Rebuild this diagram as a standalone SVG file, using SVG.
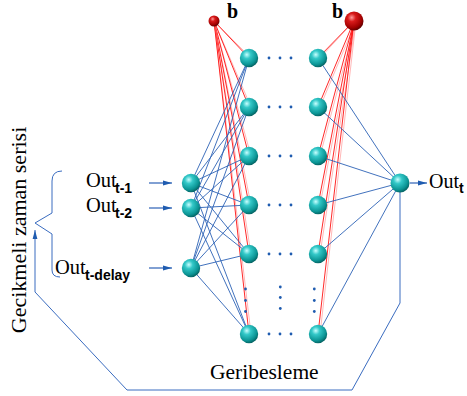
<svg xmlns="http://www.w3.org/2000/svg" width="467" height="396" viewBox="0 0 467 396">
  <defs>
    <radialGradient id="teal" cx="0.38" cy="0.32" r="0.72">
      <stop offset="0" stop-color="#c8ffff"/>
      <stop offset="0.3" stop-color="#33c8c8"/>
      <stop offset="0.75" stop-color="#0b9494"/>
      <stop offset="1" stop-color="#045c5c"/>
    </radialGradient>
    <radialGradient id="ruby" cx="0.38" cy="0.32" r="0.72">
      <stop offset="0" stop-color="#ff9a9a"/>
      <stop offset="0.3" stop-color="#d81a1a"/>
      <stop offset="0.75" stop-color="#a00000"/>
      <stop offset="1" stop-color="#550000"/>
    </radialGradient>
    <marker id="arr" markerWidth="9" markerHeight="6" refX="9" refY="3" orient="auto" markerUnits="userSpaceOnUse">
      <path d="M0,0.6 L9,3 L0,5.4 z" fill="#1f5cb0"/>
    </marker>
  </defs>
  <style>
    .w { stroke: #2d62b6; stroke-width: 0.9; fill: none; }
    .r { stroke: #ff1010; stroke-width: 0.9; fill: none; }
    .p { stroke: #ffb0b0; stroke-width: 0.9; fill: none; }
    .fb { stroke: #3a6cc0; stroke-width: 1; fill: none; }
    .ar { stroke: #2d62b6; stroke-width: 1.2; fill: none; marker-end: url(#arr); }
    .n { fill: url(#teal); }
    .bias { fill: url(#ruby); }
    .dot { fill: #1f5cb0; }
    .t { font-family: "Liberation Serif", "Times New Roman", serif; fill: #000; }
    .s { font-family: "Liberation Sans", Arial, sans-serif; font-weight: bold; font-size: 14px; fill: #000; }
  </style>

  <!-- connections -->
  <g id="connectors">
    <!-- bias of first hidden layer -->
    <g>
      <line class="p" x1="214" y1="21" x2="251" y2="58"/>
      <line class="r" x1="214" y1="21" x2="249" y2="58"/>
      <line class="p" x1="214" y1="21" x2="251" y2="107"/>
      <line class="r" x1="214" y1="21" x2="249" y2="107"/>
      <line class="p" x1="214" y1="21" x2="251" y2="156"/>
      <line class="r" x1="214" y1="21" x2="249" y2="156"/>
      <line class="p" x1="214" y1="21" x2="251" y2="205"/>
      <line class="r" x1="214" y1="21" x2="249" y2="205"/>
      <line class="p" x1="214" y1="21" x2="251" y2="254"/>
      <line class="r" x1="214" y1="21" x2="249" y2="254"/>
      <line class="p" x1="214" y1="21" x2="251" y2="334"/>
      <line class="r" x1="214" y1="21" x2="249" y2="334"/>
    </g>
    <!-- bias of last hidden layer -->
    <g>
      <line class="p" x1="354" y1="21" x2="320" y2="58"/>
      <line class="r" x1="354" y1="21" x2="318" y2="58"/>
      <line class="p" x1="356" y1="21" x2="320" y2="107"/>
      <line class="r" x1="354" y1="21" x2="318" y2="107"/>
      <line class="p" x1="356" y1="21" x2="320" y2="156"/>
      <line class="r" x1="354" y1="21" x2="318" y2="156"/>
      <line class="p" x1="356" y1="21" x2="320" y2="205"/>
      <line class="r" x1="354" y1="21" x2="318" y2="205"/>
      <line class="p" x1="356" y1="21" x2="320" y2="254"/>
      <line class="r" x1="354" y1="21" x2="318" y2="254"/>
      <line class="p" x1="356" y1="21" x2="320" y2="334"/>
      <line class="r" x1="354" y1="21" x2="318" y2="334"/>
    </g>
    <!-- inputs to first hidden layer -->
    <g>
      <line class="w" x1="191" y1="183" x2="249" y2="58"/>
      <line class="w" x1="191" y1="183" x2="249" y2="107"/>
      <line class="w" x1="191" y1="183" x2="249" y2="156"/>
      <line class="w" x1="191" y1="183" x2="249" y2="205"/>
      <line class="w" x1="191" y1="183" x2="249" y2="254"/>
      <line class="w" x1="191" y1="183" x2="249" y2="334"/>
      <line class="w" x1="191" y1="208" x2="249" y2="58"/>
      <line class="w" x1="191" y1="208" x2="249" y2="107"/>
      <line class="w" x1="191" y1="208" x2="249" y2="156"/>
      <line class="w" x1="191" y1="208" x2="249" y2="205"/>
      <line class="w" x1="191" y1="208" x2="249" y2="254"/>
      <line class="w" x1="191" y1="208" x2="249" y2="334"/>
      <line class="w" x1="191" y1="268" x2="249" y2="58"/>
      <line class="w" x1="191" y1="268" x2="249" y2="107"/>
      <line class="w" x1="191" y1="268" x2="249" y2="156"/>
      <line class="w" x1="191" y1="268" x2="249" y2="205"/>
      <line class="w" x1="191" y1="268" x2="249" y2="254"/>
      <line class="w" x1="191" y1="268" x2="249" y2="334"/>
    </g>
    <!-- last hidden layer to output -->
    <g>
      <line class="w" x1="318" y1="58" x2="400" y2="183"/>
      <line class="w" x1="318" y1="107" x2="400" y2="183"/>
      <line class="w" x1="318" y1="156" x2="400" y2="183"/>
      <line class="w" x1="318" y1="205" x2="400" y2="183"/>
      <line class="w" x1="318" y1="254" x2="400" y2="183"/>
      <line class="w" x1="318" y1="334" x2="400" y2="183"/>
    </g>
    <!-- input / output arrows -->
    <line class="ar" x1="149" y1="183" x2="172" y2="183"/>
    <line class="ar" x1="149" y1="208" x2="172" y2="208"/>
    <line class="ar" x1="149" y1="268" x2="172" y2="268"/>
    <line class="ar" x1="410" y1="183" x2="427" y2="183"/>
    <!-- feedback loop -->
    <path class="fb" d="M400,192 V303 L352,390 H127 L35,292 V230" marker-end="url(#arr)"/>
    <!-- brace grouping the delayed inputs -->
    <path class="fb" d="M62,171 Q52,171 52,181 V213 L35,223 L52,234 V270 Q52,277 60,277"/>
  </g>

  <!-- dots between hidden layers -->
  <g id="ellipses">
    <g>
      <circle class="dot" cx="269" cy="58" r="1.4"/><circle class="dot" cx="280" cy="58" r="1.4"/><circle class="dot" cx="291" cy="58" r="1.4"/>
      <circle class="dot" cx="269" cy="107" r="1.4"/><circle class="dot" cx="280" cy="107" r="1.4"/><circle class="dot" cx="291" cy="107" r="1.4"/>
      <circle class="dot" cx="269" cy="156" r="1.4"/><circle class="dot" cx="280" cy="156" r="1.4"/><circle class="dot" cx="291" cy="156" r="1.4"/>
      <circle class="dot" cx="269" cy="205" r="1.4"/><circle class="dot" cx="280" cy="205" r="1.4"/><circle class="dot" cx="291" cy="205" r="1.4"/>
      <circle class="dot" cx="269" cy="254" r="1.4"/><circle class="dot" cx="280" cy="254" r="1.4"/><circle class="dot" cx="291" cy="254" r="1.4"/>
      <circle class="dot" cx="269" cy="334" r="1.4"/><circle class="dot" cx="280" cy="334" r="1.4"/><circle class="dot" cx="291" cy="334" r="1.4"/>
    </g>
    <g>
      <circle class="dot" cx="245.5" cy="289" r="1.4"/><circle class="dot" cx="245.5" cy="300.5" r="1.4"/><circle class="dot" cx="245.5" cy="311.5" r="1.4"/>
      <circle class="dot" cx="280.3" cy="287" r="1.4"/><circle class="dot" cx="280.3" cy="297.5" r="1.4"/><circle class="dot" cx="280.3" cy="308.5" r="1.4"/>
      <circle class="dot" cx="314.3" cy="289" r="1.4"/><circle class="dot" cx="314.3" cy="300.5" r="1.4"/><circle class="dot" cx="314.3" cy="311.5" r="1.4"/>
    </g>
  </g>

  <!-- bias nodes -->
  <g id="bias1"><circle class="bias" cx="214" cy="21" r="5.5"/><text class="t" x="227" y="18" font-size="20" font-weight="bold">b</text></g>
  <g id="bias2"><circle class="bias" cx="354" cy="21" r="9.5"/><text class="t" x="332" y="18" font-size="20" font-weight="bold">b</text></g>

  <!-- input layer -->
  <g id="in1"><circle class="n" cx="191" cy="183" r="9.2"/></g>
  <g id="in2"><circle class="n" cx="191" cy="208" r="9.2"/></g>
  <g id="in3"><circle class="n" cx="191" cy="268" r="9.2"/></g>

  <!-- first hidden layer -->
  <g id="h1-1"><circle class="n" cx="249" cy="58" r="9.2"/></g>
  <g id="h1-2"><circle class="n" cx="249" cy="107" r="9.2"/></g>
  <g id="h1-3"><circle class="n" cx="249" cy="156" r="9.2"/></g>
  <g id="h1-4"><circle class="n" cx="249" cy="205" r="9.2"/></g>
  <g id="h1-5"><circle class="n" cx="249" cy="254" r="9.2"/></g>
  <g id="h1-6"><circle class="n" cx="249" cy="334" r="9.2"/></g>

  <!-- last hidden layer -->
  <g id="h2-1"><circle class="n" cx="318" cy="58" r="9.2"/></g>
  <g id="h2-2"><circle class="n" cx="318" cy="107" r="9.2"/></g>
  <g id="h2-3"><circle class="n" cx="318" cy="156" r="9.2"/></g>
  <g id="h2-4"><circle class="n" cx="318" cy="205" r="9.2"/></g>
  <g id="h2-5"><circle class="n" cx="318" cy="254" r="9.2"/></g>
  <g id="h2-6"><circle class="n" cx="318" cy="334" r="9.2"/></g>

  <!-- output -->
  <g id="out"><circle class="n" cx="400" cy="183" r="9.5"/></g>

  <!-- labels -->
  <g id="labels">
    <text class="t" x="86" y="187" font-size="20.5">Out<tspan class="s" x="115" dy="6">t-1</tspan></text>
    <text class="t" x="86" y="212" font-size="20.5">Out<tspan class="s" x="115" dy="6">t-2</tspan></text>
    <text class="t" x="55" y="274" font-size="20.5">Out<tspan class="s" x="85" dy="6">t-delay</tspan></text>
    <text class="t" x="429" y="188" font-size="20">Out<tspan class="s" dy="5">t</tspan></text>
    <text class="t" x="210" y="379" font-size="21.5">Geribesleme</text>
    <text class="t" x="0" y="0" font-size="22" text-anchor="middle" transform="translate(26,230) rotate(-90)">Gecikmeli zaman serisi</text>
  </g>
</svg>
